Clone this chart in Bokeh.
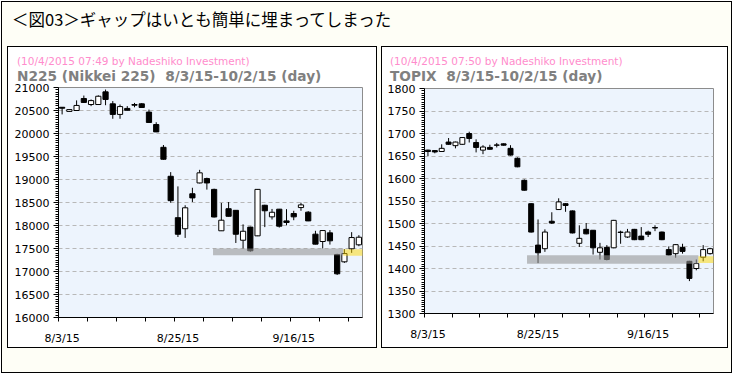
from bokeh.plotting import figure
from bokeh.layouts import column, row
from bokeh.models import Div, Range1d, FixedTicker, ColumnDataSource
from bokeh.embed import file_html
from bokeh.resources import INLINE

# ---------------- data ----------------
dates = ["8/3", "8/4", "8/5", "8/6", "8/7", "8/10", "8/11", "8/12", "8/13", "8/14",
         "8/17", "8/18", "8/19", "8/20", "8/21", "8/24", "8/25", "8/26", "8/27", "8/28",
         "8/31", "9/1", "9/2", "9/3", "9/4", "9/7", "9/8", "9/9", "9/10", "9/11",
         "9/14", "9/15", "9/16", "9/17", "9/18", "9/24", "9/25", "9/28", "9/29", "9/30",
         "10/1", "10/2"]

n225_open = [20570, 20480, 20500, 20760, 20630, 20630, 20905, 20645, 20415, 20545,
             20630, 20645, 20465, 20195, 19700, 19070, 18170, 17930, 18690, 18925,
             19020, 18785, 17885, 18365, 18330, 17680, 17965, 17775, 18440, 18188,
             18355, 18100, 18260, 18390, 18290, 17812, 17652, 17840, 17370, 17210,
             17493, 17580]
n225_high = [20575, 20530, 20720, 20825, 20740, 20830, 20955, 20705, 20630, 20595,
             20665, 20660, 20520, 20245, 19750, 19160, 18850, 18440, 18820, 19210,
             19040, 18800, 18490, 18510, 18335, 18025, 17975, 18790, 18450, 18360,
             18360, 18355, 18320, 18495, 18312, 17885, 17895, 17900, 17385, 17485,
             17855, 17790]
n225_low = [20415, 20470, 20490, 20665, 20595, 20620, 20615, 20320, 20320, 20500,
            20570, 20555, 20235, 20030, 19430, 18495, 17750, 17730, 18510, 18915,
            18780, 18175, 17880, 18195, 17620, 17500, 17430, 17770, 17965, 18130,
            17955, 18005, 18115, 18320, 18095, 17590, 17500, 17585, 16925, 17188,
            17405, 17550]
n225_close = [20550, 20520, 20610, 20675, 20715, 20810, 20740, 20415, 20585, 20505,
              20615, 20565, 20240, 20035, 19440, 18540, 17810, 18385, 18600, 19145,
              18925, 18185, 18115, 18200, 17810, 17875, 17450, 18785, 18320, 18288,
              17985, 18065, 18188, 18448, 18100, 17595, 17890, 17667, 16950, 17390,
              17738, 17745]

topix_open = [1663, 1662, 1660, 1681, 1673, 1676, 1700, 1680, 1663, 1669,
              1674.5, 1677, 1667, 1645, 1596, 1544, 1452, 1444, 1505, 1531,
              1544, 1528, 1456, 1487, 1485, 1436, 1447, 1446, 1481, 1470,
              1487, 1472, 1481, 1491, 1481, 1442, 1433, 1447, 1416, 1400,
              1425, 1433]
topix_high = [1664, 1663, 1676, 1690, 1682, 1692, 1704, 1687, 1674, 1675,
              1679, 1678, 1674, 1647, 1598, 1545, 1509, 1487, 1525, 1556,
              1545, 1529, 1496, 1501, 1485, 1457, 1452, 1508, 1484, 1488,
              1488, 1492, 1484, 1496, 1482, 1449, 1454, 1455, 1417, 1420,
              1452, 1446]
topix_low = [1650, 1656, 1659, 1675, 1667, 1675, 1680, 1658, 1654, 1664,
             1669, 1673, 1651, 1625, 1573, 1480, 1412, 1437, 1499, 1530,
             1526, 1478, 1448, 1476, 1431, 1420, 1418, 1445, 1455, 1468,
             1463, 1463, 1470, 1483, 1463, 1429, 1424, 1433, 1372, 1396,
             1416, 1431]
topix_close = [1660, 1659, 1667, 1676, 1681, 1691, 1689, 1669, 1670, 1665,
               1674, 1674, 1652, 1626, 1574, 1481, 1435, 1481, 1501, 1548,
               1540, 1479, 1467, 1477, 1446, 1446, 1420, 1507, 1480, 1481,
               1464, 1464, 1476, 1490, 1464, 1430, 1453, 1438, 1378, 1411,
               1442, 1444]

# gap zones: [x_start, x_end, y_bottom, y_top] in (trading-day index, price)
n225_gap_zone = [20.85, 38.85, 17355, 17500]
n225_gap_recent = [38.85, 41.85, 17341, 17486]
topix_gap_zone = [14.4, 39.3, 1410.5, 1429.5]
topix_gap_recent = [39.3, 41.6, 1412.5, 1427.5]

x_label_pos = [0, 16, 32]
x_tick_labels = ["8/3/15", "8/25/15", "9/16/15"]

n225_y_ticks = [16000, 16500, 17000, 17500, 18000, 18500, 19000, 19500, 20000, 20500, 21000]
topix_y_ticks = [1300, 1350, 1400, 1450, 1500, 1550, 1600, 1650, 1700, 1750, 1800]

title_text = "＜図03＞ギャップはいとも簡単に埋まってしまった"
n225_stamp = "(10/4/2015 07:49 by Nadeshiko Investment)"
n225_head = "N225 (Nikkei 225)\u00a0 8/3/15-10/2/15 (day)"
topix_stamp = "(10/4/2015 07:50 by Nadeshiko Investment)"
topix_head = "TOPIX\u00a0 8/3/15-10/2/15 (day)"

FONT = "DejaVu Sans"


def make_chart(o, h, l, c, y_ticks, gap, gap_recent, width, height, mb_left, mb_top, mb_bottom):
    n = len(dates)
    xs = list(range(n))
    src = ColumnDataSource(dict(
        x=xs,
        top=[max(a, b) for a, b in zip(o, c)],
        bottom=[min(a, b) for a, b in zip(o, c)],
        high=h, low=l,
        fill=["white" if cc >= oo else "black" for oo, cc in zip(o, c)],
    ))
    p = figure(width=width, height=height, output_backend="svg", toolbar_location=None,
               x_range=Range1d(-0.5, n - 0.5), y_range=Range1d(y_ticks[0], y_ticks[-1]),
               min_border_left=mb_left, min_border_right=14, min_border_top=mb_top,
               min_border_bottom=mb_bottom, background_fill_color="#edf4fd",
               border_fill_color=None, outline_line_color="#8c8c8c", margin=0)
    step = y_ticks[1] - y_ticks[0]
    y_minor = []
    for t in y_ticks[:-1]:
        for k in range(1, 10):
            y_minor.append(t + step * k / 10)
    x_minor = [-0.5 + 4 * k for k in range(0, 11)]

    p.xgrid.visible = False
    p.ygrid.ticker = FixedTicker(ticks=y_ticks[1:-1])
    p.ygrid.grid_line_color = "#b8b8b8"
    p.ygrid.grid_line_dash = "4 3"

    p.segment(x0="x", y0="low", x1="x", y1="high", source=src, line_color="black", line_width=1)
    p.vbar(x="x", top="top", bottom="bottom", width=0.72, source=src,
           fill_color="fill", line_color="black", line_width=1)

    p.quad(left=[gap[0]], right=[gap[1]], bottom=[gap[2]], top=[gap[3]],
           fill_color="#959595", fill_alpha=0.58, line_color=None)
    p.quad(left=[gap_recent[0]], right=[gap_recent[1]], bottom=[gap_recent[2]], top=[gap_recent[3]],
           fill_color="#ffd700", fill_alpha=0.5, line_color=None)

    xa = p.xaxis[0]
    xa.ticker = FixedTicker(ticks=x_label_pos, minor_ticks=x_minor)
    xa.major_label_overrides = {pos: lab for pos, lab in zip(x_label_pos, x_tick_labels)}
    xa.major_tick_out = 0
    xa.major_tick_in = 0
    xa.minor_tick_out = 4
    xa.minor_tick_in = 0
    xa.major_label_standoff = 10
    xa.axis_line_color = "black"
    xa.minor_tick_line_color = "black"
    xa.major_label_text_font = FONT
    xa.major_label_text_font_size = "11px"
    xa.major_label_text_color = "#000000"

    ya = p.yaxis[0]
    ya.ticker = FixedTicker(ticks=y_ticks, minor_ticks=y_minor)
    ya.major_tick_out = 5
    ya.major_tick_in = 0
    ya.minor_tick_out = 3
    ya.minor_tick_in = 0
    ya.major_label_standoff = 4
    ya.axis_line_color = "black"
    ya.major_tick_line_color = "black"
    ya.minor_tick_line_color = "black"
    ya.major_label_text_font = FONT
    ya.major_label_text_font_size = "11px"
    ya.major_label_text_color = "#000000"
    return p


def header(stamp, head, width, pad_left):
    html = (
        f'<div style="padding:7px 0 0 {pad_left}px;font-family:\'{FONT}\';white-space:nowrap;">'
        f'<div style="font-size:10.5px;line-height:14px;color:#ff8ccc;">{stamp}</div>'
        f'<div style="font-size:13.7px;line-height:16px;font-weight:bold;color:#808080;">{head}</div>'
        '</div>'
    )
    return Div(text=html, width=width, height=34, margin=0, styles={"overflow": "visible"})


p1 = make_chart(n225_open, n225_high, n225_low, n225_close, n225_y_ticks,
                n225_gap_zone, n225_gap_recent, 368, 266, 50, 6, 30)
p2 = make_chart(topix_open, topix_high, topix_low, topix_close, topix_y_ticks,
                topix_gap_zone, topix_gap_recent, 345, 266, 42, 7, 34)

panel_style = {"border": "1px solid black", "background-color": "white"}
panel1 = column(header(n225_stamp, n225_head, 368, 9), p1, spacing=0, margin=0, styles=panel_style)
panel2 = column(header(topix_stamp, topix_head, 345, 8), p2, spacing=0, margin=0, styles=panel_style)

title = Div(
    text=f'<div style="padding:7px 0 0 10px;font-family:\'Noto Sans CJK JP\';font-size:16.5px;'
         f'line-height:20px;color:#000;white-space:nowrap;">{title_text}</div>',
    width=729, height=44, margin=0)

panels = row(panel1, panel2, spacing=4, margin=(0, 0, 24, 5))
page = column(title, panels, spacing=0, margin=(1, 0, 0, 1),
              styles={"border": "1px solid black", "background-color": "#fefef6"})

html = file_html(page, INLINE)
html = html.replace("</head>", "<style>html,body{margin:0;padding:0;}</style></head>", 1)
open("out.html", "w").write(html)
